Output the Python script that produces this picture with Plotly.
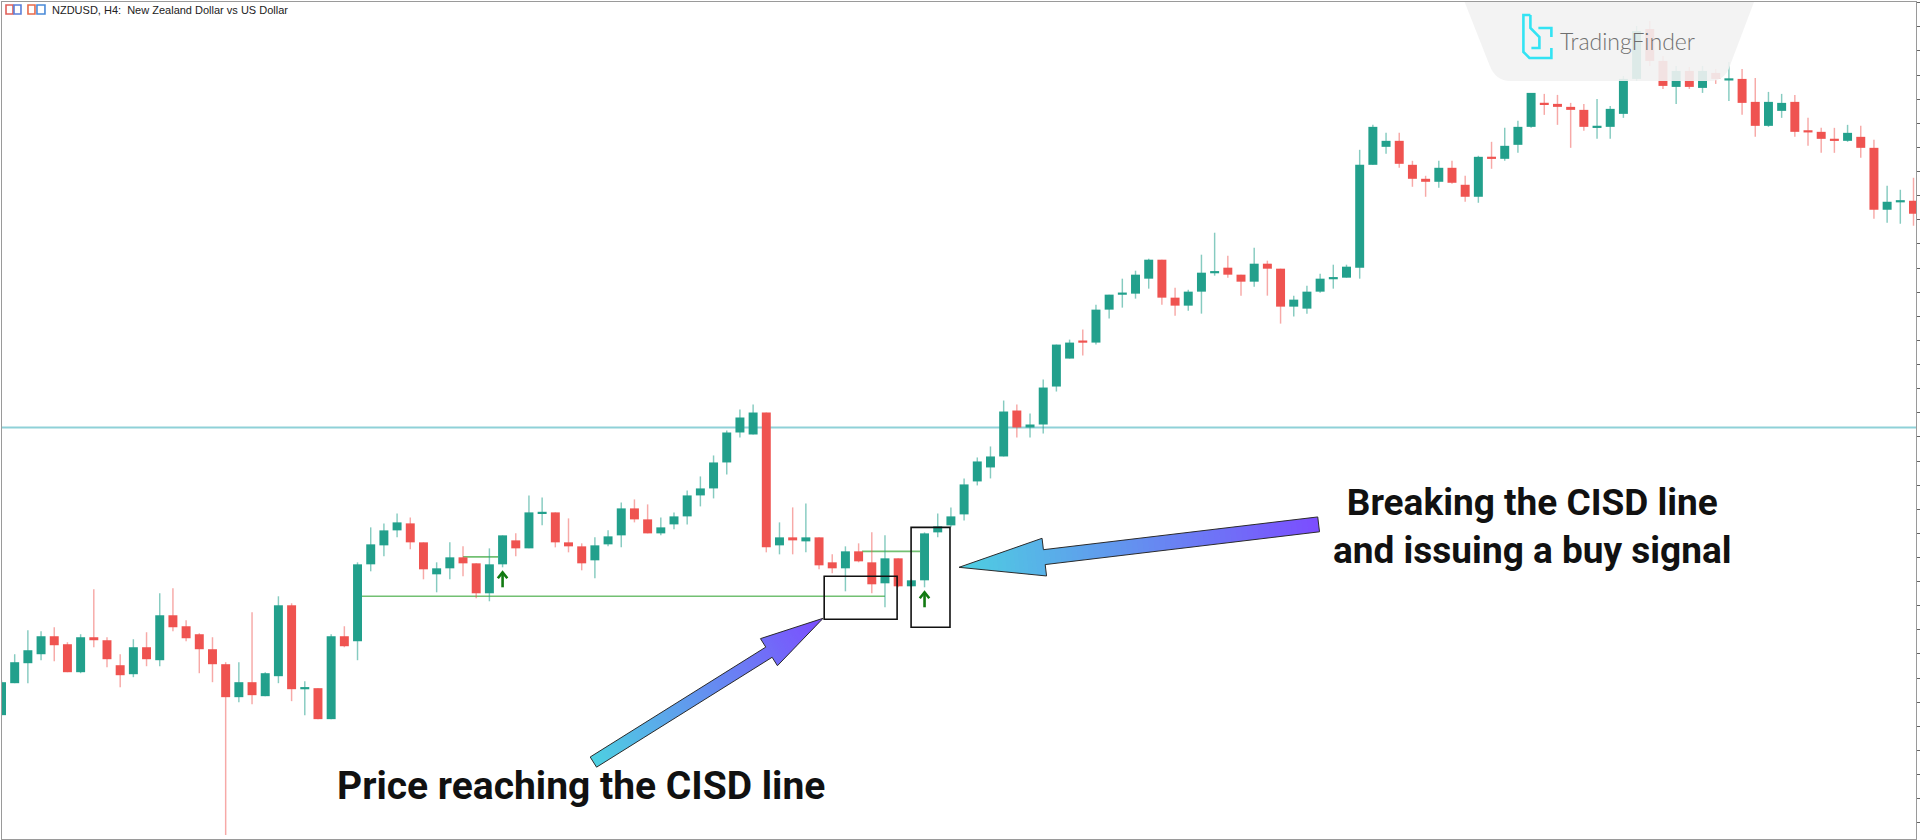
import math
import plotly.graph_objects as go

# ---------------- data (price in chart points) ----------------
open_ = [125,157,177,186,204,196,168,203,200,175,
         166,193,180,225,214,206,191,176,143,158,
         144,164,235,151,152,121,204,199,276,295,
         310,317,298,266,272,283,277,247,276,300,
         292,327,328,298,294,280,296,305,332,321,
         307,316,324,345,352,378,408,406,428,295,
         303,299,303,278,272,289,278,257,282,254,
         260,308,315,326,359,373,384,430,413,416,
         454,482,500,498,531,546,547,562,581,543,
         535,549,568,573,566,559,577,572,534,532,
         549,562,563,573,676,694,700,676,662,659,
         673,656,644,684,682,696,714,738,737,734,
         731,713,714,727,762,812,780,754,770,753,
         768,761,762,739,715,730,739,710,709,702,
         700,704,693,631,639,640]
high = [160,186,210,209,213,198,206,251,203,186,
        201,208,247,252,220,207,203,178,178,228,
        168,244,237,159,152,206,214,278,313,317,
        327,323,298,278,298,294,277,292,305,307,
        345,343,328,322,297,303,310,338,341,336,
        323,328,350,364,385,410,431,436,428,318,
        333,337,303,286,294,297,308,305,282,261,
        308,327,333,362,383,394,440,436,427,461,
        496,501,511,536,546,562,570,582,581,553,
        551,586,608,585,566,593,580,572,545,555,
        567,576,576,691,716,708,708,680,665,680,
        680,665,685,699,713,720,748,747,746,738,
        737,742,735,765,815,820,785,775,774,775,
        772,779,772,763,749,747,746,723,713,713,
        716,715,701,655,651,663]
low = [125,157,157,180,179,168,167,193,173,153,
       163,174,174,209,199,167,158,5,138,136,
       144,157,139,125,121,121,193,180,269,284,
       303,291,261,248,261,264,242,239,273,284,
       292,315,293,288,270,262,294,293,318,307,
       305,311,316,334,342,366,403,406,288,286,
       286,288,271,267,249,278,247,233,253,253,
       253,303,313,320,355,362,384,403,403,407,
       449,482,485,496,522,533,542,552,536,525,
       530,527,565,563,545,554,545,517,524,527,
       548,552,563,562,676,687,673,654,644,653,
       657,639,638,672,680,688,713,726,716,693,
       710,702,702,723,760,775,752,737,752,748,
       757,740,726,704,714,723,704,695,688,688,
       699,683,622,618,617,615]
close = [158,178,190,204,195,168,203,200,181,165,
         193,181,225,213,202,191,176,143,158,145,
         167,235,151,153,121,204,194,276,296,310,
         318,298,271,272,283,277,247,276,305,292,
         328,328,298,294,277,295,304,332,321,307,
         313,324,345,352,378,408,423,428,293,303,
         300,303,275,272,289,279,256,282,254,260,
         307,314,324,356,379,384,429,413,416,453,
         496,498,498,531,546,548,566,581,543,535,
         549,568,569,566,559,577,572,534,541,549,
         562,563,574,676,714,700,677,662,659,673,
         658,644,684,682,695,714,748,736,734,731,
         714,715,732,762,810,780,755,770,754,770,
         762,762,738,715,739,738,709,709,702,700,
         708,693,631,639,640,627]

signal_idx = [38, 70]                      # buy-signal arrows
cyan_level = 413                           # horizontal level line
cisd_lines = [(27.34, 67.0, 244.0),        # (start idx, end idx, level)
              (35.0, 37.66, 283.5),
              (65.26, 69.66, 289.0)]
boxes = [(62.39, 67.92, 221, 264),         # (x0, x1, y0, y1)
         (68.98, 71.93, 213, 313)]

title_text = "NZDUSD, H4:\u00a0 New Zealand Dollar vs US Dollar"
note_break = "Breaking the CISD line<br>and issuing a buy signal"
note_reach = "Price reaching the CISD line"

# ---------------- styling ----------------
W, H = 1920, 840
SPACING, X0 = 13.2, 1.5
GREEN, RED = "#22a08c", "#ef5350"
GWICK, RWICK = "rgba(34,160,140,0.55)", "rgba(239,83,80,0.5)"
CYAN_A, PURPLE_A = (77, 208, 225), (124, 77, 255)


def X(px):
    return (px - X0) / SPACING


def Y(py):
    return H - py


idx = list(range(len(open_)))
up = [c >= o for o, c in zip(open_, close)]

fig = go.Figure()

# wicks (thin bars so they sit under the bodies)
for is_up, wc in ((True, GWICK), (False, RWICK)):
    ids = [i for i in idx if up[i] == is_up]
    fig.add_trace(go.Bar(x=ids, y=[high[i] - low[i] for i in ids],
                         base=[low[i] for i in ids], width=0.11,
                         marker=dict(color=wc, line=dict(width=0)),
                         hoverinfo="skip"))

# bodies
b_base, b_h = [], []
for o, c in zip(open_, close):
    lo_, hi_ = min(o, c), max(o, c)
    if hi_ - lo_ < 2.2:
        mid = (lo_ + hi_) / 2
        lo_, hi_ = mid - 1.1, mid + 1.1
    b_base.append(lo_)
    b_h.append(hi_ - lo_)
fig.add_trace(go.Bar(x=idx, y=b_h, base=b_base, width=0.68,
                     marker=dict(color=[GREEN if u else RED for u in up],
                                 line=dict(width=0)),
                     hoverinfo="skip"))

# buy signal arrows
sx, sy = [], []
for i in signal_idx:
    tip = low[i] - 5
    sx += [i, i, None, i - 0.36, i, i + 0.36, None]
    sy += [tip - 15, tip, None, tip - 6, tip, tip - 6, None]
fig.add_trace(go.Scatter(x=sx, y=sy, mode="lines",
                         line=dict(color="#127a12", width=2.6),
                         hoverinfo="skip"))

shapes = []
# level lines
shapes.append(dict(type="line", xref="paper", x0=0, x1=1, yref="y",
                   y0=cyan_level, y1=cyan_level, layer="below",
                   line=dict(color="#8fd1d8", width=2)))
for a, b, lv in cisd_lines:
    shapes.append(dict(type="line", xref="x", yref="y", x0=a, x1=b, y0=lv, y1=lv,
                       layer="below", line=dict(color="#72c072", width=1.6)))
# boxes
for x0, x1, y0, y1 in boxes:
    shapes.append(dict(type="rect", xref="x", yref="y", x0=x0, x1=x1, y0=y0, y1=y1,
                       line=dict(color="#111111", width=1.6), fillcolor="rgba(0,0,0,0)"))


def mix(c1, c2, t):
    return "rgb(%d,%d,%d)" % tuple(round(a + (b - a) * t) for a, b in zip(c1, c2))


def poly_path(pts):
    return "M " + " L ".join("%.4f,%.3f" % (X(px), Y(py)) for px, py in pts) + " Z"


def grad_arrow(tail, tip, shaft_w, head_len, head_w, c_tail, c_tip, n=50):
    (x1, y1), (x2, y2) = tail, tip
    L = math.hypot(x2 - x1, y2 - y1)
    ux, uy = (x2 - x1) / L, (y2 - y1) / L
    nx, ny = -uy, ux
    hs = L - head_len

    def P(s, w):
        return (x1 + ux * s + nx * w, y1 + uy * s + ny * w)

    def half(s, in_head):
        return head_w / 2 * (L - s) / head_len if in_head else shaft_w / 2

    out = []
    segs = [(hs * k / n, hs * (k + 1) / n, False) for k in range(n)]
    m = 20
    segs += [(hs + head_len * k / m, hs + head_len * (k + 1) / m, True) for k in range(m)]
    for s0, s1, hd in segs:
        t = ((s0 + s1) / 2) / L
        col = mix(c_tail, c_tip, t)
        s1e = min(s1 + 0.8, L)
        pts = [P(s0, half(s0, hd)), P(s1e, half(s1e, hd)),
               P(s1e, -half(s1e, hd)), P(s0, -half(s0, hd))]
        out.append(dict(type="path", xref="x", yref="y", path=poly_path(pts),
                        fillcolor=col, line=dict(width=0)))
    outline = [P(0, shaft_w / 2), P(hs, shaft_w / 2), P(hs, head_w / 2), P(L, 0),
               P(hs, -head_w / 2), P(hs, -shaft_w / 2), P(0, -shaft_w / 2)]
    out.append(dict(type="path", xref="x", yref="y", path=poly_path(outline),
                    fillcolor="rgba(0,0,0,0)", line=dict(color="#2b2b2b", width=1)))
    return out


shapes += grad_arrow((594, 762), (824, 618), 12, 64, 32, CYAN_A, PURPLE_A)
shapes += grad_arrow((1320, 524), (960, 567), 15, 86, 38, PURPLE_A, CYAN_A)

# watermark box (top right)
wm = "M %.4f,%.3f L %.4f,%.3f Q %.4f,%.3f %.4f,%.3f L %.4f,%.3f Q %.4f,%.3f %.4f,%.3f L %.4f,%.3f Z" % (
    X(1465), Y(-2), X(1491), Y(64), X(1497), Y(80), X(1512), Y(80),
    X(1712), Y(80), X(1727), Y(80), X(1732), Y(64), X(1757), Y(-2))
shapes.append(dict(type="path", xref="x", yref="y", path=wm,
                   fillcolor="rgba(242,242,242,0.9)", line=dict(width=0)))
# logo glyph
for pts in ([(1532, 14), (1525, 14), (1525, 51), (1531, 57), (1553, 57), (1553, 47)],
            [(1532, 14), (1532, 27), (1541, 36), (1541, 47), (1533, 47)],
            [(1540, 27), (1553, 27), (1553, 36)]):
    shapes.append(dict(type="path", xref="x", yref="y",
                       path="M " + " L ".join("%.4f,%.3f" % (X(a), Y(b)) for a, b in pts),
                       line=dict(color="#33e3f3", width=2.6)))
# title-bar icons
for x0, x1, y0, y1, c in ((6, 13, 4, 13, "#e0605a"), (14, 21, 4, 13, "#5a7fd8"),
                          (28, 35, 4, 13, "#e86a4a"), (37, 45, 4, 13, "#4a8ad8")):
    shapes.append(dict(type="rect", xref="x", yref="y", x0=X(x0), x1=X(x1), y0=Y(y1), y1=Y(y0),
                       fillcolor="rgba(255,255,255,0)", line=dict(color=c, width=1.6)))

annotations = [
    dict(x=X(50), y=Y(9), xref="x", yref="y", text=title_text, showarrow=False,
         xanchor="left", yanchor="middle",
         font=dict(family="Liberation Sans", size=11, color="#222222")),
    dict(x=X(1560), y=Y(40), xref="x", yref="y", text="TradingFinder", showarrow=False,
         xanchor="left", yanchor="middle",
         font=dict(family="Lato", size=23, color="#6f6f6f", weight=300)),
    dict(x=X(1534), y=Y(526), xref="x", yref="y", text=note_break, showarrow=False,
         xanchor="center", yanchor="middle", align="center",
         font=dict(family="Roboto", size=37, color="#111111", weight=700)),
    dict(x=X(582), y=Y(786), xref="x", yref="y", text=note_reach, showarrow=False,
         xanchor="center", yanchor="middle",
         font=dict(family="Roboto", size=39, color="#111111", weight=700)),
]

fig.update_layout(
    width=W, height=H, margin=dict(l=2, r=2, t=1, b=1),
    paper_bgcolor="white", plot_bgcolor="white", showlegend=False,
    barmode="overlay", hovermode=False,
    xaxis=dict(range=[X(2), X(1918)], showline=True, mirror=True, linecolor="#9a9a9a",
               linewidth=1, showgrid=False, zeroline=False, showticklabels=False, ticks=""),
    yaxis=dict(range=[Y(839), Y(1)], side="right", showline=True, mirror=True,
               linecolor="#9a9a9a", linewidth=1, ticks="outside", ticklen=3,
               tickcolor="#666666", tick0=790, dtick=24.15, showticklabels=False,
               showgrid=False, zeroline=False),
    shapes=shapes, annotations=annotations,
)

fig.write_html("out.html")
